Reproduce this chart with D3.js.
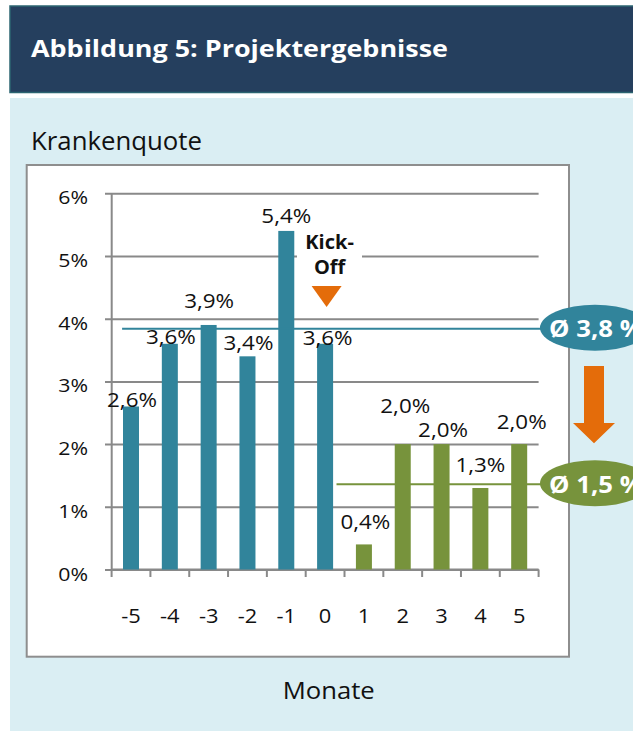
<!DOCTYPE html>
<html>
<head>
<meta charset="utf-8">
<script src="https://cdn.jsdelivr.net/npm/d3@7"></script>
<style>
  html, body { margin: 0; padding: 0; background: #ffffff; }
  svg { display: block; font-family: "Open Sans", Lato, sans-serif; }
</style>
</head>
<body>
<svg id="chart" width="633" height="731"></svg>
<script>
// ---------------- data ----------------
const months = ["-5", "-4", "-3", "-2", "-1", "0", "1", "2", "3", "4", "5"];
const rates = [2.6, 3.6, 3.9, 3.4, 5.4, 3.6, 0.4, 2.0, 2.0, 1.3, 2.0];
const phases = ["vor", "vor", "vor", "vor", "vor", "vor", "nach", "nach", "nach", "nach", "nach"];
const rateLabels = ["2,6%", "3,6%", "3,9%", "3,4%", "5,4%", "3,6%", "0,4%", "2,0%", "2,0%", "1,3%", "2,0%"];
const yTicks = [0, 1, 2, 3, 4, 5, 6];
const yTickLabels = ["0%", "1%", "2%", "3%", "4%", "5%", "6%"];
const averageLevels = [3.84, 1.36];          // where the average lines sit in the picture
const averageLabels = ["Ø 3,8 %", "Ø 1,5 %"];
const averagePhases = ["vor", "nach"];
const titleText = "Abbildung 5: Projektergebnisse";
const yTitle = "Krankenquote";
const xTitle = "Monate";
const kickOffLines = ["Kick-", "Off"];

// ---------------- layout / style ----------------
const FONT = "'Open Sans', Lato, sans-serif";
const colors = { vor: "#31849B", nach: "#77933C", orange: "#E46C0A", grid: "#898989" };
const labelDy = [0.5, 0, -17, -6, -8, 1, -15, -31, -7, -16, -15];
const labelDx = [1, 1, 0.5, 1, 0, 2.5, 1.5, 2.5, 1.5, 0, 2.5];
const SX = 1.12; // horizontal stretch of the reference lettering

const svg = d3.select("#chart");

function stretch(sel, sx) {
  sel.each(function () {
    const t = d3.select(this);
    const x = +t.attr("x") || 0, y = +t.attr("y") || 0;
    t.attr("x", 0).attr("y", 0).attr("transform", `translate(${x},${y}) scale(${sx},1)`);
  });
  return sel;
}

// header
svg.append("rect").attr("x", 10).attr("y", 6).attr("width", 630).attr("height", 86.5)
  .attr("fill", "#253F5E").attr("stroke", "#2C6571").attr("stroke-width", 1.5);
svg.append("text").attr("x", 31).attr("y", 57).text(titleText)
  .attr("fill", "#ffffff").attr("font-weight", 700).attr("font-size", 22.5)
  .attr("textLength", 417).attr("lengthAdjust", "spacingAndGlyphs");

// light panel
svg.append("rect").attr("x", 10).attr("y", 98).attr("width", 623).attr("height", 633).attr("fill", "#DAEEF3");
svg.append("text").attr("x", 31).attr("y", 150).text(yTitle)
  .attr("fill", "#111").attr("font-size", 25)
  .attr("textLength", 171).attr("lengthAdjust", "spacingAndGlyphs");

// white chart box
svg.append("rect").attr("x", 26.7).attr("y", 165).attr("width", 542.3).attr("height", 491.7)
  .attr("fill", "#ffffff").attr("stroke", "#8E8E8E").attr("stroke-width", 2);

svg.append("text").attr("x", 282.7).attr("y", 699.3).text(xTitle)
  .attr("fill", "#111").attr("font-size", 24.5)
  .attr("textLength", 92).attr("lengthAdjust", "spacingAndGlyphs");

// scales
const x = d3.scaleBand().domain(months).range([111.6, 538.6]).paddingInner(0).paddingOuter(0);
const y = d3.scaleLinear().domain([0, 6]).range([569.5, 193.3]);
const barW = 16;

// y axis with gridlines
const yAxis = svg.append("g").attr("transform", "translate(105,0)")
  .call(d3.axisLeft(y).tickValues(yTicks).tickFormat((d, i) => yTickLabels[i])
    .tickSizeInner(-(538.6 - 105)).tickSizeOuter(0).tickPadding(17));
yAxis.select(".domain").remove();
yAxis.selectAll(".tick line").attr("stroke", colors.grid).attr("stroke-width", 2);
yAxis.selectAll(".tick text").attr("font-size", 19).attr("fill", "#111")
  .attr("font-family", FONT).attr("dy", null).attr("y", 10.5);
stretch(yAxis.selectAll(".tick text"), SX);

// vertical axis line
svg.append("line").attr("x1", 111.7).attr("x2", 111.7).attr("y1", y(6)).attr("y2", y(0))
  .attr("stroke", colors.grid).attr("stroke-width", 2);

// x axis: labels from axisBottom, boundary ticks from band edges
const xAxis = svg.append("g").attr("transform", `translate(0,${y(0)})`)
  .call(d3.axisBottom(x).tickSize(0).tickPadding(0));
xAxis.select(".domain").remove();
xAxis.selectAll(".tick text").attr("font-size", 19.5).attr("fill", "#111")
  .attr("font-family", FONT).attr("dy", null).attr("y", 53.5);
stretch(xAxis.selectAll(".tick text"), SX);

const edges = d3.range(months.length + 1).map(i => x.range()[0] + i * x.step());
svg.append("g").selectAll("line").data(edges).join("line")
  .attr("x1", d => d).attr("x2", d => d).attr("y1", y(0)).attr("y2", y(0) + 7.5)
  .attr("stroke", colors.grid).attr("stroke-width", 2);
svg.append("line").attr("x1", x.range()[0]).attr("x2", x.range()[1]).attr("y1", y(0)).attr("y2", y(0))
  .attr("stroke", colors.grid).attr("stroke-width", 2);

// Kick-Off box (white, hides gridline)
const kx = x("0") + x.bandwidth() / 2;
svg.append("rect").attr("x", 297).attr("y", 228).attr("width", 65).attr("height", 52).attr("fill", "#ffffff");

// bars
svg.append("g").selectAll("rect").data(months).join("rect")
  .attr("x", d => x(d) + (x.bandwidth() - barW) / 2)
  .attr("width", barW)
  .attr("y", (d, i) => y(rates[i]))
  .attr("height", (d, i) => y(0) - y(rates[i]))
  .attr("fill", (d, i) => colors[phases[i]]);

// average lines
const lineStart = { vor: x("-5") + 10.5, nach: x("1") - 8 };
const ellipseCx = 595, ellipseRx = 55, ellipseRy = 23;
averageLevels.forEach((v, i) => {
  const ph = averagePhases[i];
  svg.append("line").attr("x1", lineStart[ph]).attr("x2", ellipseCx - ellipseRx + 2)
    .attr("y1", y(v)).attr("y2", y(v)).attr("stroke", colors[ph]).attr("stroke-width", 2);
});

// Kick-Off text and marker
kickOffLines.forEach((t, i) => {
  svg.append("text").attr("x", kx + 4.5).attr("y", 249 + i * 25).text(t)
    .attr("text-anchor", "middle").attr("font-weight", 700).attr("font-size", 20).attr("fill", "#111");
});
svg.append("path")
  .attr("d", `M${kx - 13.5},286 L${kx + 16.5},286 L${kx + 1.5},307 Z`)
  .attr("fill", colors.orange);

// value labels
svg.append("g").selectAll("text").data(months).join("text")
  .attr("x", (d, i) => x(d) + x.bandwidth() / 2 + labelDx[i])
  .attr("y", (d, i) => y(rates[i]) + labelDy[i])
  .attr("text-anchor", "middle").attr("font-size", 20).attr("fill", "#111")
  .text((d, i) => rateLabels[i])
  .call(s => stretch(s, SX));

// average ellipses
averageLevels.forEach((v, i) => {
  const ph = averagePhases[i];
  const cy = y(v) - 1;
  svg.append("ellipse").attr("cx", ellipseCx).attr("cy", cy).attr("rx", ellipseRx).attr("ry", ellipseRy)
    .attr("fill", colors[ph]);
  const t = svg.append("text").attr("x", 549).attr("y", cy + 9.7).text(averageLabels[i])
    .attr("fill", "#ffffff").attr("font-weight", 700).attr("font-size", 23);
  stretch(t, 1.12);
});

// orange arrow between averages
const ax = 594;
svg.append("path")
  .attr("d", `M${ax - 10},366 L${ax + 10},366 L${ax + 10},423 L${ax + 21},423 L${ax},443.3 L${ax - 21},423 L${ax - 10},423 Z`)
  .attr("fill", colors.orange);
</script>
</body>
</html>
